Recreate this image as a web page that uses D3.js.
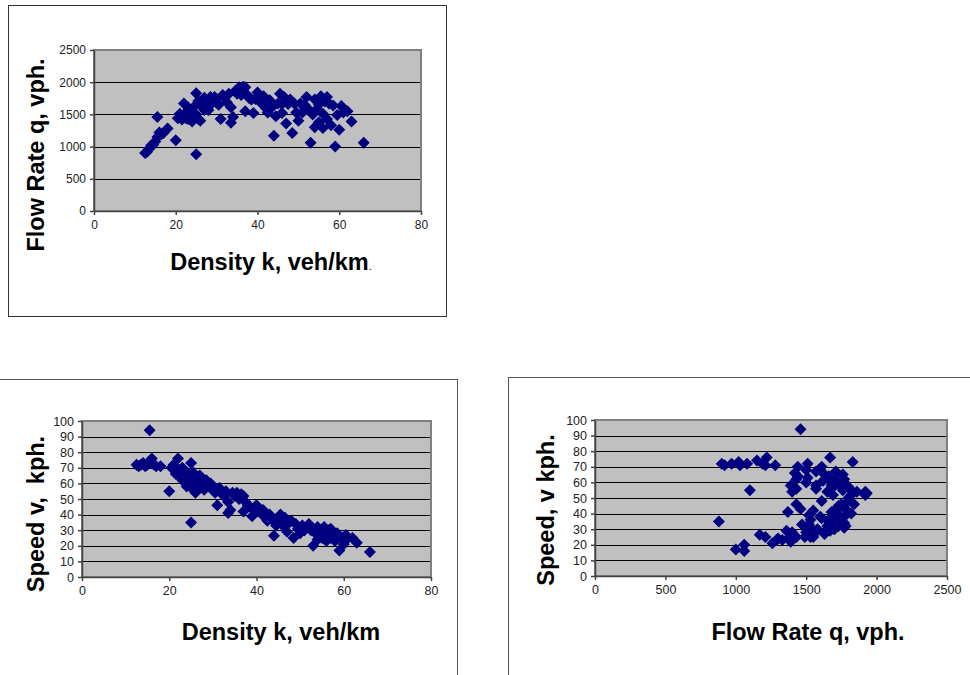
<!DOCTYPE html>
<html>
<head>
<meta charset="utf-8">
<script src="https://cdn.jsdelivr.net/npm/d3@7"></script>
<style>
  body { margin: 0; background: #fff; }
  svg { display: block; font-family: Arial, "Liberation Sans", sans-serif; }
</style>
</head>
<body>
<svg id="chart" width="970" height="675"></svg>
<script>
// observations: density k (veh/km), speed v (kph), flow q (vph)
const density = [12.5, 13, 13.5, 14, 14.5, 15, 15.5, 15.5, 16, 16.5, 17, 18, 20, 25,
  20.5, 21, 21.5, 22, 22, 22.5, 23, 23, 23.5, 24, 24, 24.5, 25, 25, 25.5, 25.5,
  26, 26, 26.5, 27, 27, 27.5, 28, 28, 28.5, 29, 29.5, 30, 30, 30.5, 31, 31.5,
  32, 32.5, 33, 33.5, 33.5, 34, 34.5, 35, 35.5, 36, 36.5, 37, 37, 37.5, 38, 38.5,
  39, 39.5, 40, 40.5, 41, 41.5, 42, 42.5, 43, 43.5, 44, 44.5, 45, 45.5, 46, 46.5,
  47, 47.5, 48, 48.5, 49, 49.5, 50, 50.5, 51, 52, 52.5, 53, 53.5, 54, 54.5, 55,
  55.5, 56, 56, 56.5, 57, 57.5, 58, 58.5, 59, 59.5, 60, 60.5, 61, 62, 63, 66,
  54, 55, 57, 51.5, 46];
const speed = [72, 71, 72, 73, 71, 72, 74, 94, 76, 72, 71, 71, 55, 35,
  70, 72, 66, 76, 68, 64, 70, 62, 67, 63, 58, 66, 73, 60, 67, 56,
  64, 54, 61, 65, 58, 62, 60, 56, 62, 58, 60, 56, 58, 54, 46, 57,
  55, 52, 55, 41, 48, 43, 54, 52, 54, 50, 53, 52, 42, 48, 46, 45,
  39, 44, 46, 42, 41, 43, 38, 36, 40, 37, 26.5, 33, 37, 40, 36, 38,
  29, 35, 36, 25, 34, 31, 28, 33, 30, 34, 30, 20, 28, 32, 29, 25,
  32, 27, 23, 30, 25, 29, 23, 28, 17, 25, 21, 27, 25, 25, 22, 16,
  24, 30, 31, 32, 33];
const flow = [900, 920, 970, 1020, 1030, 1080, 1150, 1460, 1220, 1190, 1210, 1280, 1100, 880,
  1440, 1510, 1420, 1670, 1500, 1440, 1610, 1430, 1570, 1510, 1390, 1620, 1830, 1500, 1710, 1430,
  1660, 1400, 1620, 1760, 1570, 1710, 1680, 1570, 1770, 1680, 1770, 1680, 1740, 1650, 1430, 1800,
  1760, 1690, 1820, 1370, 1610, 1460, 1860, 1820, 1920, 1800, 1930, 1920, 1550, 1800, 1750, 1730,
  1520, 1740, 1840, 1700, 1680, 1780, 1600, 1530, 1720, 1610, 1170, 1470, 1670, 1820, 1660, 1770,
  1360, 1660, 1730, 1210, 1670, 1530, 1400, 1670, 1530, 1770, 1580, 1060, 1500, 1730, 1580, 1380,
  1780, 1510, 1290, 1700, 1430, 1670, 1330, 1640, 1000, 1490, 1260, 1630, 1530, 1550, 1390, 1060,
  1300, 1650, 1770, 1650, 1520];

const densityTicks = [0, 20, 40, 60, 80];
const flowTicks = [0, 500, 1000, 1500, 2000, 2500];
const speedTicks = [0, 10, 20, 30, 40, 50, 60, 70, 80, 90, 100];

const svg = d3.select("#chart");

// outer chart frames
svg.append("rect").attr("x", 8.5).attr("y", 5.5).attr("width", 438).attr("height", 311)
    .attr("fill", "none").attr("stroke", "#333");
svg.append("rect").attr("x", -2).attr("y", 379.5).attr("width", 459.5).attr("height", 300)
    .attr("fill", "none").attr("stroke", "#555");
svg.append("rect").attr("x", 508.5).attr("y", 377.5).attr("width", 470).attr("height", 300)
    .attr("fill", "none").attr("stroke", "#555");

const diamond = "M0,-6L6,0L0,6L-6,0Z";

function scatter(cfg) {
    const x = d3.scaleLinear().domain(d3.extent(cfg.xTicks)).range([cfg.left, cfg.right]);
    const y = d3.scaleLinear().domain(d3.extent(cfg.yTicks)).range([cfg.bottom, cfg.top]);
    const g = svg.append("g");

    // plot area
    g.append("rect")
        .attr("x", cfg.left).attr("y", cfg.top)
        .attr("width", cfg.right - cfg.left).attr("height", cfg.bottom - cfg.top)
        .attr("fill", "#c0c0c0").attr("stroke", "#808080").attr("stroke-width", 2);

    // gridlines
    g.selectAll(".grid")
        .data(cfg.yTicks.slice(1, -1))
        .join("line")
        .attr("x1", cfg.left).attr("x2", cfg.right - 1)
        .attr("y1", d => Math.round(y(d)) + 0.5).attr("y2", d => Math.round(y(d)) + 0.5)
        .attr("stroke", "#000").attr("stroke-width", 1);

    // axes
    const fmt = d3.format("d");
    const xAxis = g.append("g")
        .attr("transform", "translate(0," + cfg.bottom + ")")
        .call(d3.axisBottom(x).tickValues(cfg.xTicks).tickFormat(fmt)
            .tickSize(4).tickSizeOuter(0).tickPadding(5));
    const yAxis = g.append("g")
        .attr("transform", "translate(" + cfg.left + ",0)")
        .call(d3.axisLeft(y).tickValues(cfg.yTicks).tickFormat(fmt)
            .tickSize(4).tickSizeOuter(0).tickPadding(4));
    [xAxis, yAxis].forEach(a => {
        a.selectAll("path, line").attr("stroke", "#444").attr("stroke-width", 1.5);
        a.selectAll("text").attr("fill", "#222")
            .style("font-size", cfg.tickFont + "px")
            .style("font-family", "Arial, 'Liberation Sans', sans-serif");
    });

    // points
    g.selectAll(".pt")
        .data(cfg.xs.map((v, i) => [v, cfg.ys[i]]))
        .join("path")
        .attr("d", diamond)
        .attr("transform", d => "translate(" + x(d[0]) + "," + y(d[1]) + ")")
        .attr("fill", "#000080");

    // axis titles
    const xt = g.append("text")
        .attr("x", cfg.xTitleX).attr("y", cfg.xTitleY)
        .attr("text-anchor", "middle")
        .style("font-size", "23.5px").style("font-weight", "bold")
        .text(cfg.xTitle);
    if (cfg.xTitleDot) xt.append("tspan").style("font-size", "11px").style("font-weight", "normal").text(".");
    g.append("text")
        .attr("transform", "translate(" + cfg.yTitleX + "," + cfg.yTitleY + ") rotate(-90)")
        .attr("text-anchor", "middle")
        .style("font-size", "23.5px").style("font-weight", "bold")
        .style("white-space", "pre")
        .text(cfg.yTitle);
}

// flow vs density
scatter({
    xs: density, ys: flow, xTicks: densityTicks, yTicks: flowTicks,
    left: 94, right: 421, top: 50, bottom: 211, tickFont: 12,
    xTitle: "Density k, veh/km", xTitleDot: true, xTitleX: 271, xTitleY: 270,
    yTitle: "Flow Rate q, vph.", yTitleX: 44, yTitleY: 155
});

// speed vs density
scatter({
    xs: density, ys: speed, xTicks: densityTicks, yTicks: speedTicks,
    left: 82, right: 431, top: 421, bottom: 577, tickFont: 12.5,
    xTitle: "Density k, veh/km", xTitleX: 281, xTitleY: 640,
    yTitle: "Speed v,  kph.", yTitleX: 44, yTitleY: 514
});

// speed vs flow
scatter({
    xs: flow, ys: speed, xTicks: flowTicks, yTicks: speedTicks,
    left: 595, right: 947, top: 420, bottom: 576, tickFont: 12.5,
    xTitle: "Flow Rate q, vph.", xTitleX: 808, xTitleY: 640,
    yTitle: "Speed, v kph.", yTitleX: 554, yTitleY: 510
});
</script>
</body>
</html>
